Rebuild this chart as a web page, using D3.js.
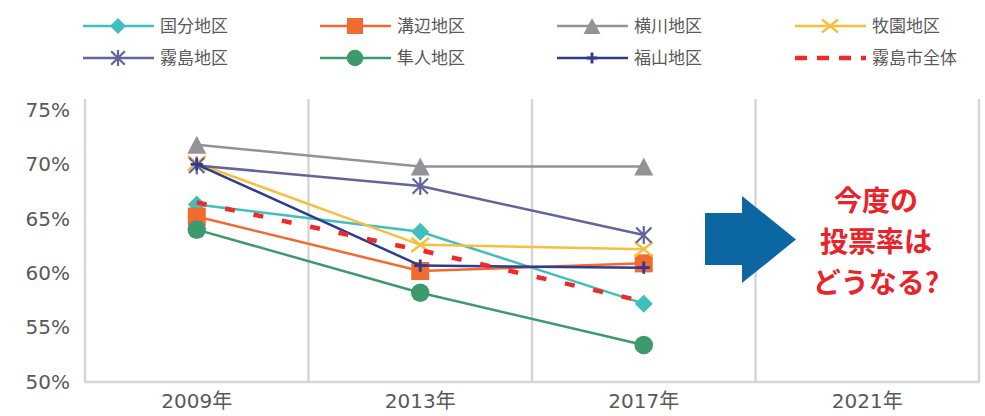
<!DOCTYPE html>
<html>
<head>
<meta charset="utf-8">
<script src="https://d3js.org/d3.v7.min.js"></script>
<style>
  body { margin: 0; background: #fff; }
  svg { display: block; }
</style>
</head>
<body>
<svg width="985" height="416"></svg>
<script>
// categories and tick labels
const years = ["2009年", "2013年", "2017年", "2021年"];
const yTicks = [50, 55, 60, 65, 70, 75];

// series values (%), one per surveyed year (2021 has no data yet)
const kokubu    = [66.3, 63.8, 57.2];
const mizobe    = [65.2, 60.2, 60.9];
const yokogawa  = [71.8, 69.8, 69.8];
const makizono  = [70.1, 62.6, 62.2];
const kirishima = [69.9, 68.0, 63.5];
const hayato    = [64.0, 58.2, 53.4];
const fukuyama  = [70.0, 60.7, 60.5];
const cityAll   = [66.5, 62.1, 57.4];

const seriesNames = ["国分地区", "溝辺地区", "横川地区", "牧園地区", "霧島地区", "隼人地区", "福山地区", "霧島市全体"];

// styling per series (not data)
const seriesStyle = [
  { color: "#3fbfbd", marker: "diamond" },
  { color: "#f26a2e", marker: "square" },
  { color: "#939397", marker: "triangle" },
  { color: "#f8bf3c", marker: "x" },
  { color: "#62649c", marker: "star" },
  { color: "#3e9a6e", marker: "circle" },
  { color: "#2f3b90", marker: "plus" },
  { color: "#ee2a2a", marker: null, dashed: true }
];
const allValues = [kokubu, mizobe, yokogawa, makizono, kirishima, hayato, fukuyama, cityAll];

const svg = d3.select("svg");
const gridColor = "#d6d6d6";
const textColor = "#595959";

const plotLeft = 85, plotRight = 979, plotTop = 99, plotBottom = 382;

const x = d3.scaleBand().domain(years).range([plotLeft, plotRight]).padding(0);
const y = d3.scaleLinear().domain([50, 76]).range([plotBottom, plotTop]);
const cx = d => x(d) + x.bandwidth() / 2;

// vertical grid lines at category boundaries (plus frame)
const bounds = years.map(d => x(d)).concat([plotRight]);
svg.append("g").selectAll("line")
  .data(bounds)
  .enter().append("line")
  .attr("x1", d => d).attr("x2", d => d)
  .attr("y1", plotTop).attr("y2", plotBottom)
  .attr("stroke", gridColor).attr("stroke-width", 2.5);

svg.append("line")
  .attr("x1", plotLeft - 1).attr("x2", plotRight + 1)
  .attr("y1", plotBottom).attr("y2", plotBottom)
  .attr("stroke", gridColor).attr("stroke-width", 2.5);

// y axis labels
const yAxis = svg.append("g")
  .attr("transform", `translate(${plotLeft},0)`)
  .call(d3.axisLeft(y).tickValues(yTicks).tickSize(0).tickPadding(15).tickFormat(d => d + "%"));
yAxis.select(".domain").remove();
yAxis.selectAll("text")
  .attr("fill", textColor)
  .style("font-family", "'DejaVu Sans', sans-serif")
  .style("font-size", "20px");

// x axis labels
const xAxis = svg.append("g")
  .attr("transform", `translate(0,${plotBottom})`)
  .call(d3.axisBottom(x).tickSize(0).tickPadding(12));
xAxis.select(".domain").remove();
xAxis.selectAll("text")
  .attr("fill", textColor)
  .style("font-family", "'DejaVu Sans', 'Noto Sans CJK JP', sans-serif")
  .style("font-size", "20px");

// marker drawing
function drawMarker(g, type, px, py, s, color) {
  const h = s / 2;
  if (type === "diamond") {
    g.append("path").attr("d", `M${px},${py - h}L${px + h},${py}L${px},${py + h}L${px - h},${py}Z`).attr("fill", color);
  } else if (type === "square") {
    g.append("rect").attr("x", px - h).attr("y", py - h).attr("width", s).attr("height", s).attr("fill", color);
  } else if (type === "triangle") {
    g.append("path").attr("d", `M${px},${py - h}L${px + h + 0.5},${py + h}L${px - h - 0.5},${py + h}Z`).attr("fill", color);
  } else if (type === "circle") {
    g.append("circle").attr("cx", px).attr("cy", py).attr("r", h + 0.3).attr("fill", color);
  } else if (type === "x") {
    g.append("path").attr("d", `M${px - h},${py - h * 0.8}L${px + h},${py + h * 0.8}M${px + h},${py - h * 0.8}L${px - h},${py + h * 0.8}`)
      .attr("stroke", color).attr("stroke-width", 2.5).attr("fill", "none");
  } else if (type === "star") {
    g.append("path").attr("d", `M${px - h * 0.85},${py - h * 0.85}L${px + h * 0.85},${py + h * 0.85}M${px + h * 0.85},${py - h * 0.85}L${px - h * 0.85},${py + h * 0.85}M${px},${py - h}L${px},${py + h}`)
      .attr("stroke", color).attr("stroke-width", 2.2).attr("fill", "none");
  } else if (type === "plus") {
    const p = h * 0.68;
    g.append("path").attr("d", `M${px - p},${py}L${px + p},${py}M${px},${py - p}L${px},${py + p}`)
      .attr("stroke", color).attr("stroke-width", 2.8).attr("fill", "none");
  }
}

// clip on the left of first category markers (as in the original)
svg.append("defs").append("clipPath").attr("id", "plotclip")
  .append("rect").attr("x", cx(years[0]) - 9.5).attr("y", 0).attr("width", 985).attr("height", 416);

const plot = svg.append("g").attr("clip-path", "url(#plotclip)");
const line = d3.line().x((d, i) => cx(years[i])).y(d => y(d));

allValues.forEach((vals, k) => {
  const st = seriesStyle[k];
  const g = plot.append("g");
  g.append("path")
    .datum(vals)
    .attr("d", line)
    .attr("fill", "none")
    .attr("stroke", st.color)
    .attr("stroke-width", st.dashed ? 4.5 : 2.5)
    .attr("stroke-dasharray", st.dashed ? "10,19" : null);
  if (st.marker) {
    vals.forEach((v, i) => drawMarker(g, st.marker, cx(years[i]), y(v), 18, st.color));
  }
});

// legend
const legCols = [83, 320, 557, 795];
const legRows = [26, 58];
const legend = svg.append("g");
seriesNames.forEach((name, k) => {
  const st = seriesStyle[k];
  const lx = legCols[k % 4], ly = legRows[Math.floor(k / 4)];
  const g = legend.append("g");
  g.append("line")
    .attr("x1", lx).attr("x2", lx + 71).attr("y1", ly).attr("y2", ly)
    .attr("stroke", st.color)
    .attr("stroke-width", st.dashed ? 4.5 : 2.5)
    .attr("stroke-dasharray", st.dashed ? "12,10" : null);
  if (st.marker) drawMarker(g, st.marker, lx + 35, ly, 16, st.color);
  g.append("text")
    .attr("x", lx + 77).attr("y", ly)
    .attr("dy", "0.35em")
    .attr("fill", textColor)
    .style("font-family", "'Noto Sans CJK JP', sans-serif")
    .style("font-size", "17px")
    .text(name);
});

// annotation: arrow and question text
const arrowColor = "#0b66a2";
svg.append("path")
  .attr("d", "M705,213L742,213L742,196L796,239.5L742,283L742,265L705,265Z")
  .attr("fill", arrowColor);

const noteLines = ["今度の", "投票率は", "どうなる?"];
svg.append("g").selectAll("text")
  .data(noteLines)
  .enter().append("text")
  .attr("x", 876)
  .attr("y", (d, i) => 201 + i * 41)
  .attr("dy", "0.35em")
  .attr("text-anchor", "middle")
  .attr("fill", "#ea2229")
  .style("font-family", "'Noto Sans CJK JP', sans-serif")
  .style("font-weight", "bold")
  .style("font-size", "28px")
  .text(d => d);
</script>
</body>
</html>
